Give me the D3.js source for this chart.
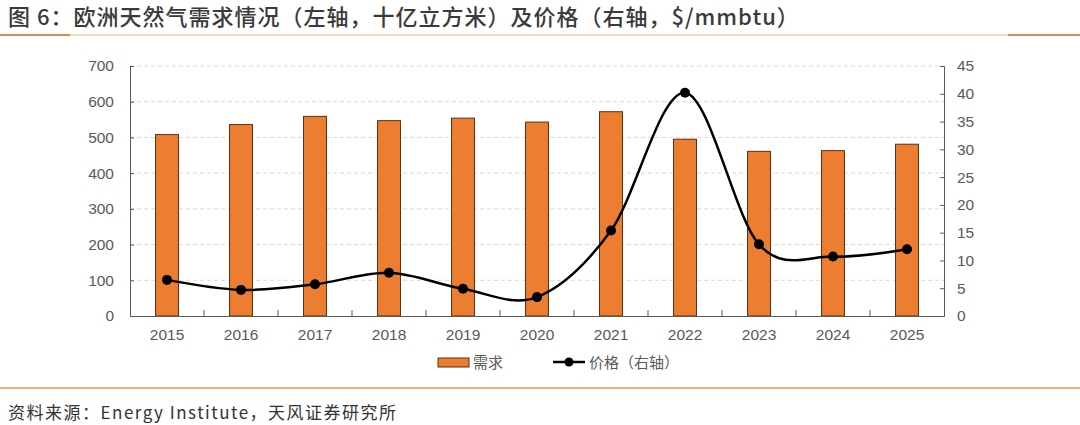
<!DOCTYPE html>
<html><head><meta charset="utf-8">
<script src="https://cdn.jsdelivr.net/npm/d3@7"></script>
<style>
html,body{margin:0;padding:0;background:#fff;}
svg{display:block;font-family:"Liberation Sans","Noto Sans CJK SC",Arial,sans-serif;}
</style></head>
<body>
<svg id="c" width="1080" height="425"></svg>
<script>
const years = ["2015","2016","2017","2018","2019","2020","2021","2022","2023","2024","2025"];
const demand = [508, 536, 559, 547, 554, 543, 572, 495, 461, 463, 481];
const price = [6.5, 4.7, 5.7, 7.8, 4.9, 3.4, 15.4, 40.2, 12.9, 10.7, 12.0];
const leftTicks = [0,100,200,300,400,500,600,700];
const rightTicks = [0,5,10,15,20,25,30,35,40,45];
const titleText = "图 6：欧洲天然气需求情况（左轴，十亿立方米）及价格（右轴，$/mmbtu）";
const sourceText = "资料来源：Energy Institute，天风证券研究所";
const legendBar = "需求";
const legendLine = "价格（右轴）";

const svg = d3.select("#c");
const L = 130, R = 944, T = 66, B = 316;
const x = d3.scaleBand().domain(years).range([L, R]).paddingInner(0.69).paddingOuter(0.345);
const xb = d3.scaleBand().domain(years).range([L, R]);
const yL = d3.scaleLinear().domain([0,700]).range([B, T]);
const yR = d3.scaleLinear().domain([0,45]).range([B, T]);
const grey = "#595959";

// title
svg.append("text").attr("x",8).attr("y",25).attr("font-size",22).attr("font-weight",500)
  .attr("letter-spacing",1.0)
  .attr("fill","#3a3a3a").attr("font-family","'Noto Sans CJK SC','Liberation Sans',sans-serif").text(titleText);
svg.append("line").attr("x1",0).attr("x2",1080).attr("y1",35).attr("y2",35).attr("stroke","#F3CBA3").attr("stroke-width",1.5);
svg.append("line").attr("x1",0).attr("x2",70).attr("y1",35).attr("y2",35).attr("stroke","#E3894A").attr("stroke-width",2);
svg.append("line").attr("x1",1008).attr("x2",1080).attr("y1",35).attr("y2",35).attr("stroke","#E3894A").attr("stroke-width",2);

// grid
svg.append("g").selectAll("line").data(leftTicks.slice(1)).join("line")
  .attr("x1",L).attr("x2",R).attr("y1",d=>yL(d)).attr("y2",d=>yL(d))
  .attr("stroke","#D9D9D9").attr("stroke-dasharray","4,3").attr("stroke-width",1);

// bars
svg.append("g").selectAll("rect").data(years).join("rect")
  .attr("x",d=>x(d)).attr("width",x.bandwidth())
  .attr("y",(d,i)=>yL(demand[i])).attr("height",(d,i)=>B-yL(demand[i]))
  .attr("fill","#ED7D31").attr("stroke","#5a3010").attr("stroke-width",1);

// axes
const gl = svg.append("g").attr("transform",`translate(${L},0)`)
  .call(d3.axisLeft(yL).tickValues(leftTicks).tickSizeInner(-4).tickSizeOuter(-4).tickPadding(16));
const gr = svg.append("g").attr("transform",`translate(${R},0)`)
  .call(d3.axisRight(yR).tickValues(rightTicks).tickSizeInner(-4).tickSizeOuter(-4).tickPadding(13));
const gx = svg.append("g").attr("transform",`translate(0,${B})`)
  .call(d3.axisBottom(xb).tickSize(0).tickPadding(13));
// category boundary ticks (inward)
svg.append("g").selectAll("line").data(years.slice(1)).join("line")
  .attr("x1",d=>xb(d)).attr("x2",d=>xb(d)).attr("y1",B).attr("y2",B-6)
  .attr("stroke",grey).attr("stroke-width",1);
[gl,gr,gx].forEach(g=>{
  g.selectAll("path,line").attr("stroke",grey);
  g.selectAll("text").attr("fill",grey).attr("font-size",15.5).attr("font-family","'Liberation Sans',Arial,sans-serif");
});

// price line
const line = d3.line().x((d,i)=>xb(years[i])+xb.bandwidth()/2).y(d=>yR(d)).curve(d3.curveCatmullRom.alpha(0));
svg.append("path").datum(price).attr("d",line).attr("fill","none").attr("stroke","#000").attr("stroke-width",2.5);
svg.append("g").selectAll("circle").data(price).join("circle")
  .attr("cx",(d,i)=>xb(years[i])+xb.bandwidth()/2).attr("cy",d=>yR(d)).attr("r",5).attr("fill","#000");

// legend
const lg = svg.append("g");
lg.append("rect").attr("x",438).attr("y",358).attr("width",31).attr("height",9).attr("fill","#ED7D31").attr("stroke","#5a3010").attr("stroke-width",1);
lg.append("text").attr("x",473).attr("y",368).attr("font-size",15).attr("fill",grey).attr("font-family","'Noto Sans CJK SC',sans-serif").text(legendBar);
lg.append("line").attr("x1",553).attr("x2",585).attr("y1",362).attr("y2",362).attr("stroke","#000").attr("stroke-width",2.5);
lg.append("circle").attr("cx",569).attr("cy",362).attr("r",4.5).attr("fill","#000");
lg.append("text").attr("x",589).attr("y",368).attr("font-size",15).attr("fill",grey).attr("font-family","'Noto Sans CJK SC',sans-serif").text(legendLine);

// bottom separator & source
svg.append("line").attr("x1",0).attr("x2",1080).attr("y1",388).attr("y2",388).attr("stroke","#F0B27A").attr("stroke-width",2);
svg.append("text").attr("x",8).attr("y",419).attr("font-size",17).attr("letter-spacing",1.5).attr("fill","#333").attr("font-family","'Noto Sans CJK SC','Liberation Sans',sans-serif").text(sourceText);
</script>
</body></html>
